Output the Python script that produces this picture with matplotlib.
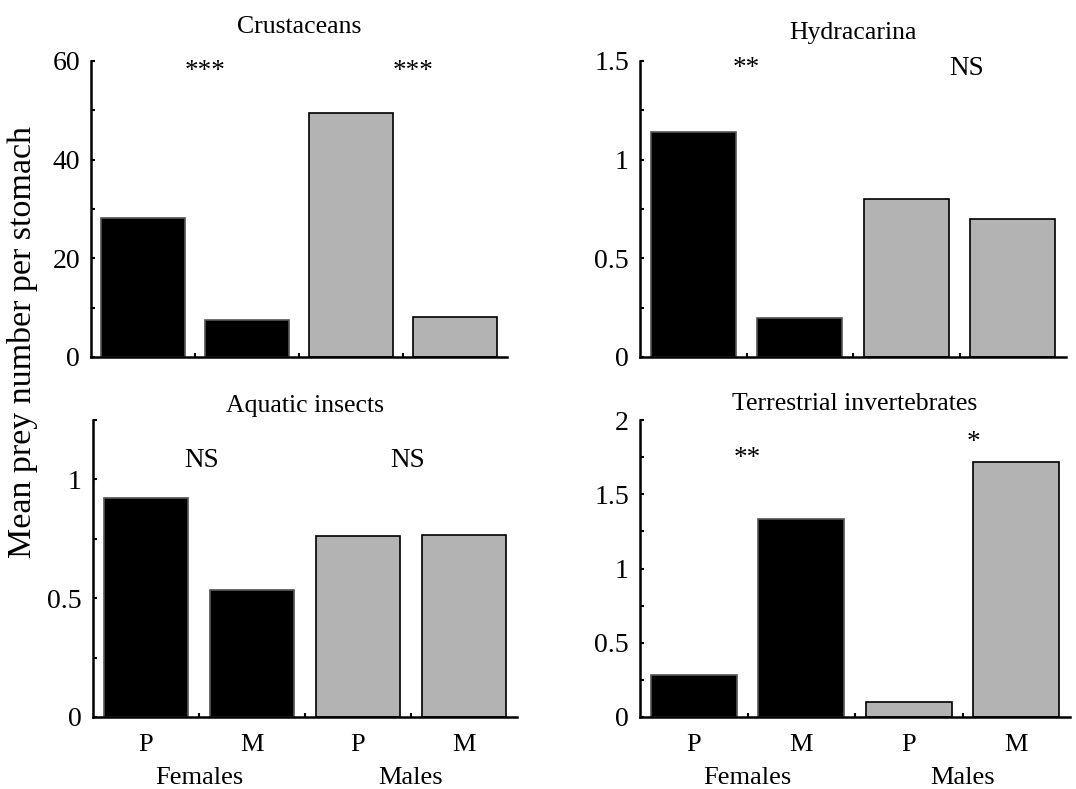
import numpy as np
import matplotlib.pyplot as plt
from matplotlib.ticker import MultipleLocator

plt.rcParams['font.family'] = ['Liberation Serif', 'DejaVu Serif']

# data (P, M for females, then P, M for males)
groups = ["P", "M", "P", "M"]
sexes = ["Females", "Males"]

crustaceans = [28.1, 7.6, 49.5, 8.2]
hydracarina = [1.14, 0.20, 0.80, 0.70]
aquatic_insects = [0.92, 0.535, 0.76, 0.765]
terrestrial = [0.28, 1.335, 0.10, 1.72]

# significance labels
sig_crust = ["***", "***"]
sig_hydra = ["**", "NS"]
sig_aqua = ["NS", "NS"]
sig_terr = ["**", "*"]

black = "#000000"
grey = "#b3b3b3"
bar_colors = [black, black, grey, grey]

W, H = 1076, 789
fig = plt.figure(figsize=(W / 100, H / 100), dpi=100)


def px_axes(x0, x1, y_top, y_bot):
    return fig.add_axes([x0 / W, 1 - y_bot / H, (x1 - x0) / W, (y_bot - y_top) / H])


panels = [
    # title, values, ylim, major, minor, labels, label positions, bottom row, box, title pad
    ("Crustaceans", crustaceans, 60, 20, 10, sig_crust,
     [(1.6, 57.8), (3.6, 57.8)], False, (91, 507, 61, 357), 20),
    ("Hydracarina", hydracarina, 1.5, 0.5, 0.25, sig_hydra,
     [(1.5, 1.46), (3.57, 1.46)], False, (640, 1066, 61, 357), 16),
    ("Aquatic insects", aquatic_insects, 1.25, 0.5, 0.25, sig_aqua,
     [(1.52, 1.08), (3.47, 1.08)], True, (93, 517, 420, 717), 6),
    ("Terrestrial invertebrates", terrestrial, 2, 0.5, 0.25, sig_terr,
     [(1.5, 1.74), (3.6, 1.85)], True, (640, 1070, 420, 717), 7),
]

x = np.arange(1, 5)

for title, vals, ymax, major, minor, sig, sig_pos, bottom, box, tpad in panels:
    ax = px_axes(*box)
    edges = ["#555555", "#555555", black, black]
    ax.bar(x, vals, width=0.8, color=bar_colors, edgecolor=edges, linewidth=1.2, zorder=2)

    ax.set_xlim(0.5, 4.5)
    ax.set_ylim(0, ymax)
    ax.spines['top'].set_visible(False)
    ax.spines['right'].set_visible(False)
    ax.spines['left'].set_linewidth(1.8)
    ax.spines['bottom'].set_linewidth(1.8)

    ax.yaxis.set_major_locator(MultipleLocator(major))
    ax.yaxis.set_minor_locator(MultipleLocator(minor))
    ax.set_yticklabels([f"{v:g}" for v in ax.get_yticks()])
    ax.tick_params(axis='y', which='both', direction='in', length=3, width=1.5,
                   labelsize=20, pad=8)

    ax.set_xticks([1.5, 2.5, 3.5], minor=True)
    ax.tick_params(axis='x', which='minor', direction='in', length=3, width=1.5)
    ax.set_xticks(x)
    ax.tick_params(axis='x', which='major', length=0, pad=12)
    if bottom:
        ax.set_xticklabels(groups, fontsize=19)
        for sx, s in zip([1.5, 3.5], sexes):
            ax.text(sx, -0.205, s, transform=ax.get_xaxis_transform(),
                    ha='center', va='center', fontsize=19)
    else:
        ax.set_xticklabels([])

    ax.set_title(title, fontsize=18.5, pad=tpad)

    for (sx, sy), s in zip(sig_pos, sig):
        ax.text(sx, sy, s, ha='center', va='center', fontsize=19.5)

fig.text(23 / W, 1 - 342 / H, "Mean prey number per stomach", rotation=90,
         ha='center', va='center', fontsize=24.5)

fig.savefig("out.png", dpi=100)
